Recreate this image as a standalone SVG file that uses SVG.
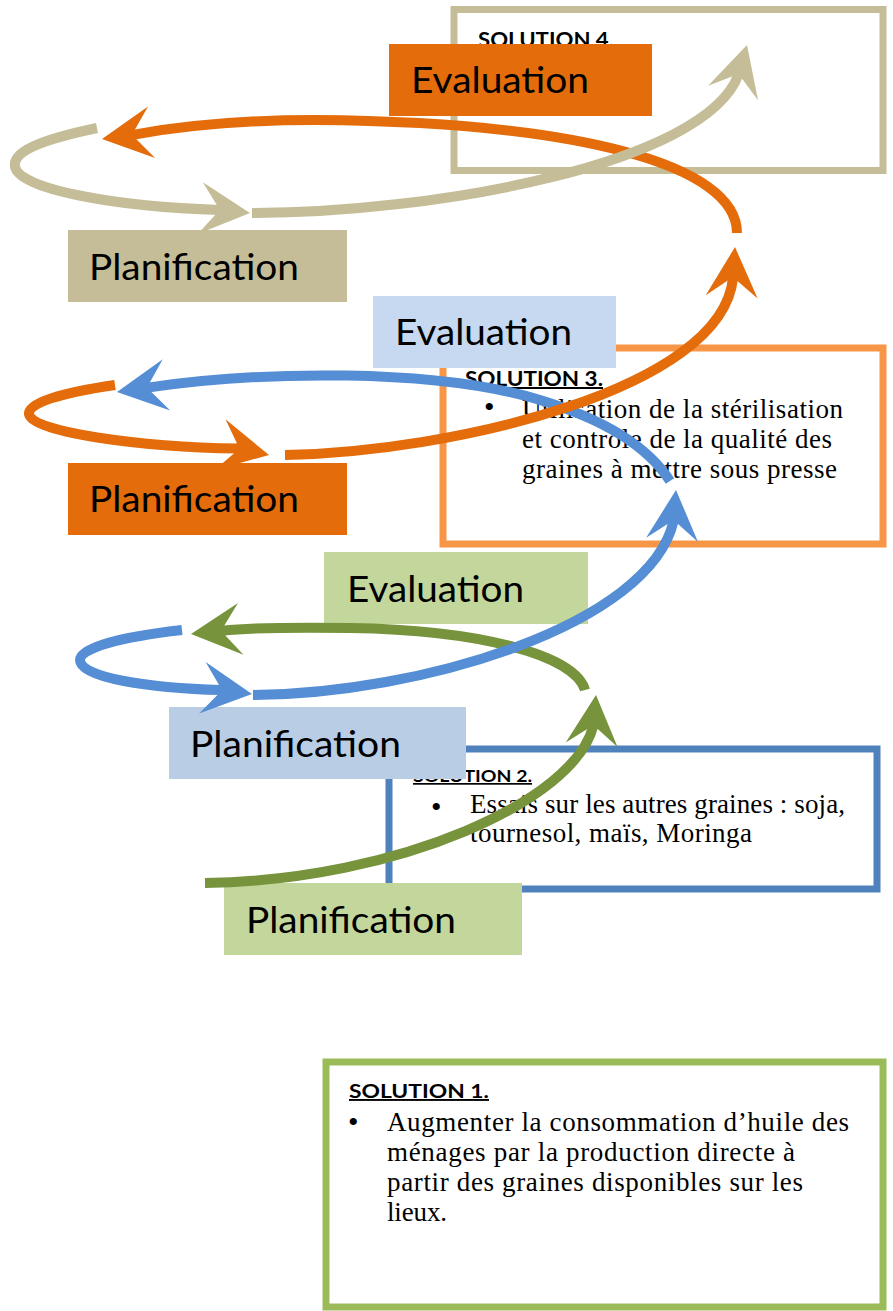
<svg xmlns="http://www.w3.org/2000/svg" width="893" height="1311" viewBox="0 0 893 1311">
<style>
.sol{fill:#fff;stroke-width:7}
.lbl{font-family:Lato,'Liberation Sans',sans-serif;font-size:36px;fill:#000}
.hd{font-family:Lato,'Liberation Sans',sans-serif;font-weight:bold;fill:#000;text-decoration:underline}
.bd{font-family:'Liberation Serif',serif;font-size:27px;fill:#000}
.bl{font-family:'Liberation Serif',serif;font-size:30px;fill:#000}
.ln{fill:none;stroke-width:10;stroke-linecap:butt}
.tan{stroke:#C4BD97}.tanf{fill:#C4BD97}
.org{stroke:#E46C0A}.orgf{fill:#E46C0A}
.blu{stroke:#558ED5}.bluf{fill:#558ED5}
.grn{stroke:#77933C}.grnf{fill:#77933C}
</style>
<defs>
<path id="ah" d="M0,0 L-50,-26 L-34,-5 L-34,5 L-50,26 Z"/>
</defs>
<rect width="893" height="1311" fill="#fff"/>

<g id="solution1">
<rect class="sol" x="326" y="1062" width="557" height="245" stroke="#9BBB59"/>
<text class="hd" x="349" y="1098" font-size="19" textLength="140" lengthAdjust="spacingAndGlyphs">SOLUTION 1.</text>
<text class="bl" x="348" y="1132">•</text>
<text class="bd" x="387" y="1131" textLength="462">Augmenter la consommation d’huile des</text>
<text class="bd" x="387" y="1161" textLength="408">ménages par la production directe à</text>
<text class="bd" x="387" y="1191" textLength="416">partir des graines disponibles sur les</text>
<text class="bd" x="387" y="1221" textLength="60">lieux.</text>
</g>

<g id="solution2">
<rect class="sol" x="389" y="749" width="488" height="140" stroke="#4F81BD" stroke-width="6"/>
<text class="hd" x="413" y="782" font-size="17" textLength="119" lengthAdjust="spacingAndGlyphs">SOLUTION 2.</text>
<text class="bl" x="431" y="817">•</text>
<text class="bd" x="470" y="813" textLength="375">Essais sur les autres graines : soja,</text>
<text class="bd" x="470" y="842" textLength="282">tournesol, maïs, Moringa</text>
</g>

<g id="solution3">
<rect class="sol" x="443" y="348" width="440" height="196" stroke="#F79646"/>
<text class="hd" x="465" y="386" font-size="20" textLength="138" lengthAdjust="spacingAndGlyphs">SOLUTION 3.</text>
<text class="bl" x="484" y="417">•</text>
<text class="bd" x="522" y="418" textLength="321">Utilisation de la stérilisation</text>
<text class="bd" x="522" y="448" textLength="310">et contrôle de la qualité des</text>
<text class="bd" x="522" y="478" textLength="315">graines à mettre sous presse</text>
</g>

<g id="solution4">
<rect class="sol" x="454" y="9.5" width="429" height="161" stroke="#C4BD97"/>
<text class="hd" x="478" y="47" font-size="20" textLength="136" lengthAdjust="spacingAndGlyphs">SOLUTION 4.</text>
</g>

<g id="eval-orange">
<rect x="389" y="44" width="263" height="72" fill="#E46C0A"/>
<text class="lbl" x="411" y="93" textLength="178" lengthAdjust="spacingAndGlyphs">Evaluation</text>
</g>
<g id="plan-tan">
<rect x="68" y="230" width="279" height="72" fill="#C4BD97"/>
<text class="lbl" x="89" y="280" textLength="210" lengthAdjust="spacingAndGlyphs">Planification</text>
</g>
<g id="eval-blue">
<rect x="373" y="296" width="243" height="72" fill="#C6D9F1"/>
<text class="lbl" x="395" y="345" textLength="177" lengthAdjust="spacingAndGlyphs">Evaluation</text>
</g>
<g id="plan-orange">
<rect x="68" y="463" width="279" height="72" fill="#E46C0A"/>
<text class="lbl" x="89" y="512" textLength="210" lengthAdjust="spacingAndGlyphs">Planification</text>
</g>
<g id="eval-green">
<rect x="324" y="552" width="264" height="72" fill="#C3D69B"/>
<text class="lbl" x="347" y="602" textLength="177" lengthAdjust="spacingAndGlyphs">Evaluation</text>
</g>
<g id="plan-blue">
<rect x="169" y="707" width="297" height="72" fill="#B9CDE5"/>
<text class="lbl" x="190" y="757" textLength="211" lengthAdjust="spacingAndGlyphs">Planification</text>
</g>
<g id="plan-green">
<rect x="224" y="883" width="298" height="72" fill="#C3D69B"/>
<text class="lbl" x="246" y="933" textLength="210" lengthAdjust="spacingAndGlyphs">Planification</text>
</g>

<g id="connectors">
<path class="ln grn" d="M205,883 C400,880 575,800 593.3,725.9"/>
<use href="#ah" class="grnf" transform="translate(596,695) rotate(-85)"/>
<path class="ln grn" d="M585,690 C575,655 480,630 350,628 C290,627 250,628 221.8,630.7"/>
<use href="#ah" class="grnf" transform="translate(191,634) rotate(174)"/>

<path class="ln blu" d="M182,630 C120,637 80,648 80,660 C80,678 150,688 221.2,690.1"/>
<use href="#ah" class="bluf" transform="translate(252,694) rotate(7.2)"/>
<path class="ln blu" d="M253,695 C420,694 650,625 673.6,520.9"/>
<use href="#ah" class="bluf" transform="translate(676,490) rotate(-85.5)"/>
<path class="ln blu" d="M670,481 C643,439 588,414.5 540,400 C434,368 260,371 147.7,387.6"/>
<use href="#ah" class="bluf" transform="translate(117,392) rotate(171.8)"/>

<path class="ln org" d="M115,385 C60,393 28,403 29,414 C30,432 140,447 238.7,448.6"/>
<use href="#ah" class="orgf" transform="translate(269,455) rotate(12)"/>
<path class="ln org" d="M285,455 C450,452 722,390 733,277.9"/>
<use href="#ah" class="orgf" transform="translate(735,247) rotate(-86.2)"/>
<path class="ln org" d="M737,233 C737,165 580,122 315,120 C230,120 170,128 132.7,134.8"/>
<use href="#ah" class="orgf" transform="translate(102,139) rotate(172.2)"/>

<path class="ln tan" d="M97,128 C40,140 12,152 15,167 C20,190 120,207 219.2,209.9"/>
<use href="#ah" class="tanf" transform="translate(250,213) rotate(5.7)"/>
<path class="ln tan" d="M252,213 C430,213 705,165 738.4,74.8"/>
<use href="#ah" class="tanf" transform="translate(747,45) rotate(-73.8)"/>
</g>
</svg>
